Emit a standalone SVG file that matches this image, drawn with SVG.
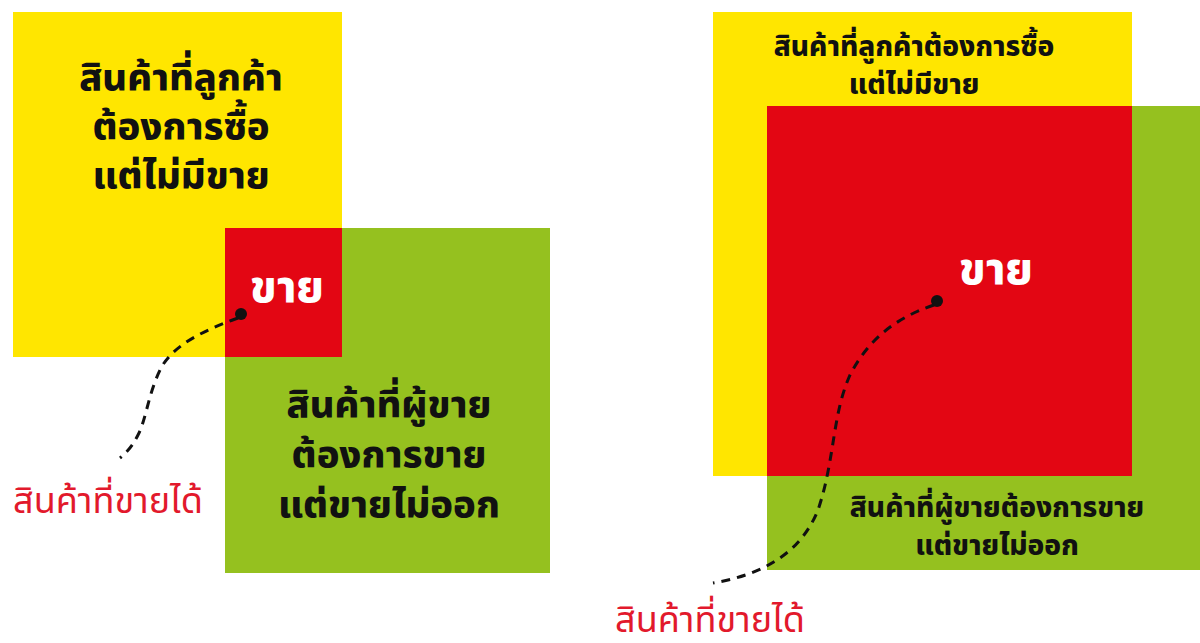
<svg xmlns="http://www.w3.org/2000/svg" width="1200" height="643" viewBox="0 0 1200 643">
<style>
.y{fill:#FFE600}.r{fill:#E30613}.g{fill:#95C11F}
text{font-family:"Noto Sans Thai","Noto Sans","DejaVu Sans",sans-serif;text-anchor:middle}
.bk{fill:#111;font-weight:800}
.wh{fill:#fff;font-weight:800;font-size:44px}
.lb{fill:#E2192C;font-size:36px}
.big{font-size:38px}.sm{font-size:28px}
.dash{fill:none;stroke:#111;stroke-width:3;stroke-dasharray:9 7}
</style>
<rect width="1200" height="643" fill="#fff"/>
<g id="left-want">
<rect class="y" x="13" y="12" width="329" height="345"/>
<text class="bk big"><tspan x="181" y="90">สินค้าที่ลูกค้า</tspan><tspan x="181" y="139">ต้องการซื้อ</tspan><tspan x="181" y="188">แต่ไม่มีขาย</tspan></text>
</g>
<g id="left-sell">
<rect class="g" x="225" y="228" width="325" height="345"/>
<text class="bk big"><tspan x="389" y="417">สินค้าที่ผู้ขาย</tspan><tspan x="389" y="467">ต้องการขาย</tspan><tspan x="389" y="517">แต่ขายไม่ออก</tspan></text>
</g>
<g id="left-overlap">
<rect class="r" x="225" y="228" width="117" height="129"/>
<text class="wh" x="287" y="302">ขาย</text>
</g>
<g id="left-label">
<text class="lb" x="108" y="513">สินค้าที่ขายได้</text>
</g>
<g id="right-want">
<rect class="y" x="713" y="12" width="419" height="464"/>
<text class="bk sm"><tspan x="914" y="56">สินค้าที่ลูกค้าต้องการซื้อ</tspan><tspan x="914" y="94">แต่ไม่มีขาย</tspan></text>
</g>
<g id="right-sell">
<rect class="g" x="767" y="106" width="433" height="464"/>
<text class="bk sm"><tspan x="997" y="517">สินค้าที่ผู้ขายต้องการขาย</tspan><tspan x="997" y="555">แต่ขายไม่ออก</tspan></text>
</g>
<g id="right-overlap">
<rect class="r" x="767" y="106" width="365" height="370"/>
<text class="wh" x="996" y="284">ขาย</text>
</g>
<g id="right-label">
<text class="lb" x="710" y="632">สินค้าที่ขายได้</text>
</g>
<g id="connectors">
<circle cx="241" cy="314" r="6" fill="#111"/>
<path class="dash" d="M238 318 C205 330 172 345 160 370 C148 395 146 420 138 435 C132 447 127 452 120 458"/>
<circle cx="937" cy="301" r="6" fill="#111"/>
<path class="dash" d="M934 305 C895 318 868 340 850 375 C832 415 835 460 818 510 C800 555 760 575 713 583"/>
</g>
</svg>
